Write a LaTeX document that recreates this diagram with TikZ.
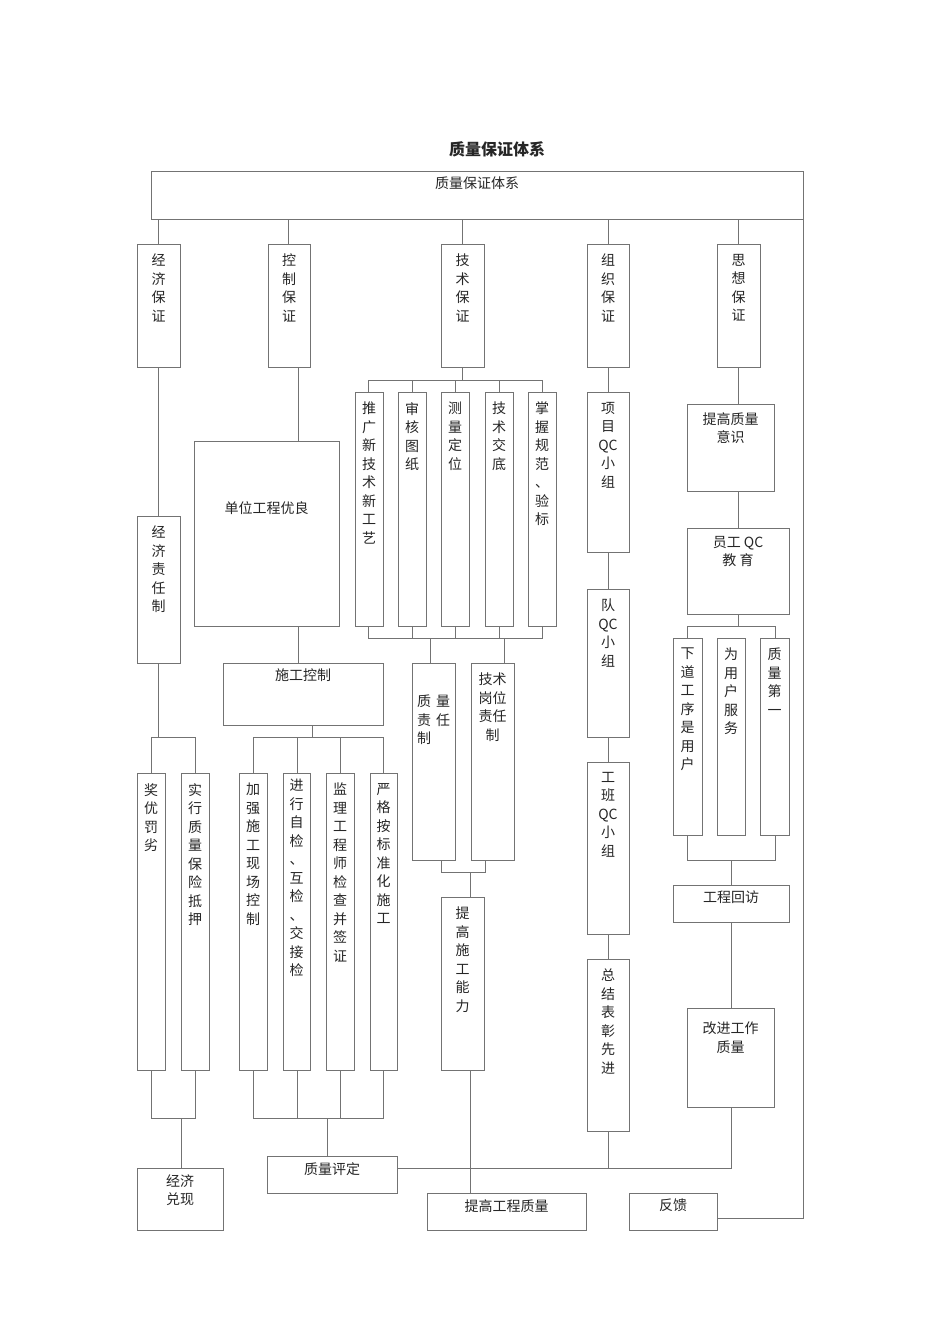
\documentclass[tikz,border=0pt]{standalone}
\usepackage{fontspec}
\newfontfamily\cjk{Noto Sans CJK SC}
\begin{document}
\begin{tikzpicture}[x=1pt,y=-1pt,
  box/.style={draw=black!55,line width=0.6pt,inner sep=0pt,outer sep=0pt},
  txt/.style={font=\cjk\fontsize{14}{18.5}\selectfont,align=center,inner sep=0pt,text=black!85},
  ln/.style={draw=black!55,line width=0.6pt}]
\useasboundingbox[fill=white] (0,0) rectangle (950,1344);
\newcommand\bx[7][6]{%
 \pgfmathsetmacro\w{#5-#3}\pgfmathsetmacro\h{#6-#4}%
 \node[box,minimum width=\w pt,minimum height=\h pt] (#2) at ({(#3+#5)/2},{(#4+#6)/2}) {};%
 \node[txt,anchor=north] at ([yshift=-#1pt]#2.north) {#7};}
\node[txt,font=\cjk\bfseries\fontsize{16}{18}\selectfont] (title) at (497,149) {质量保证体系};
\bx{top}{151}{171}{803}{219}{质量保证体系}
% level 1
\bx[10]{jj}{137}{244}{180}{367}{经\\济\\保\\证}
\bx[10]{kz}{268}{244}{310}{367}{控\\制\\保\\证}
\bx[10]{js}{441}{244}{484}{367}{技\\术\\保\\证}
\bx[10]{zz}{587}{244}{629}{367}{组\\织\\保\\证}
\bx[10]{sx}{717}{244}{760}{367}{思\\想\\保\\证}
\foreach \n/\x in {jj/158,kz/288,js/462,zz/608,sx/738}
  \draw[ln] (\x,0 |- top.south) -- (\x,0 |- \n.north);
% economic
\bx[10]{zrz}{137}{516}{180}{663}{经\\济\\责\\任\\制}
\draw[ln] (158,0 |- jj.south) -- (158,0 |- zrz.north);
\bx[10]{jy}{137}{773}{165}{1070}{奖\\优\\罚\\劣}
\bx[10]{sxz}{181}{773}{209}{1070}{实\\行\\质\\量\\保\\险\\抵\\押}
\draw[ln] (158,0 |- zrz.south) -- (158,737);
\draw[ln] (151,0 |- jy.north) -- (151,737) -- (195,737) -- (195,0 |- sxz.north);
\draw[ln] (151,0 |- jy.south) -- (151,1118) -- (195,1118) -- (195,0 |- sxz.south);
\bx{jjdx}{137}{1168}{223}{1230}{经济\\兑现}
\draw[ln] (181,1118) -- (181,0 |- jjdx.north);
% control
\bx[60]{dw}{194}{441}{339}{626}{单位工程优良}
\draw[ln] (298,0 |- kz.south) -- (298,0 |- dw.north);
\bx{sg}{223}{663}{383}{725}{施工控制}
\draw[ln] (298,0 |- dw.south) -- (298,0 |- sg.north);
\bx[10]{c1}{239}{773}{267}{1070}{加\\强\\施\\工\\现\\场\\控\\制}
\bx[6]{c2}{283}{773}{310}{1070}{进\\行\\自\\检\\、\\互\\检\\、\\交\\接\\检}
\bx[10]{c3}{326}{773}{354}{1070}{监\\理\\工\\程\\师\\检\\查\\并\\签\\证}
\bx[10]{c4}{370}{773}{397}{1070}{严\\格\\按\\标\\准\\化\\施\\工}
\draw[ln] (312,0 |- sg.south) -- (312,737);
\draw[ln] (253,0 |- c1.north) -- (253,737) -- (383,737) -- (383,0 |- c4.north);
\draw[ln] (297,737) -- (297,0 |- c2.north);
\draw[ln] (340,737) -- (340,0 |- c3.north);
\draw[ln] (253,0 |- c1.south) -- (253,1118) -- (383,1118) -- (383,0 |- c4.south);
\draw[ln] (297,1118) -- (297,0 |- c2.south);
\draw[ln] (340,1118) -- (340,0 |- c3.south);
\bx{zlpd}{267}{1156}{397}{1193}{质量评定}
\draw[ln] (327,1118) -- (327,0 |- zlpd.north);
% technical
\bx[10]{t1}{355}{392}{383}{626}{推\\广\\新\\技\\术\\新\\工\\艺}
\bx[10]{t2}{398}{392}{426}{626}{审\\核\\图\\纸}
\bx[10]{t3}{441}{392}{469}{626}{测\\量\\定\\位}
\bx[10]{t4}{485}{392}{513}{626}{技\\术\\交\\底}
\bx[10]{t5}{528}{392}{556}{626}{掌\\握\\规\\范\\、\\验\\标}
\draw[ln] (462,0 |- js.south) -- (462,380);
\draw[ln] (368,0 |- t1.north) -- (368,380) -- (542,380) -- (542,0 |- t5.north);
\foreach \n/\x in {t2/412,t3/455,t4/499} {
  \draw[ln] (\x,380) -- (\x,0 |- \n.north);
  \draw[ln] (\x,638) -- (\x,0 |- \n.south);}
\draw[ln] (368,0 |- t1.south) -- (368,638) -- (542,638) -- (542,0 |- t5.south);
\bx[40]{zlz}{412}{663}{455}{860}{}
\node[txt,anchor=north] at (424,695) {质\\责\\制};
\node[txt,anchor=north] at (443,695) {量\\任};
\node[txt,anchor=north,yshift=-8pt] at (zlz.north) {};
\bx[10]{gwz}{471}{663}{514}{860}{技术\\岗位\\责任\\制}
\draw[ln] (430,638) -- (430,0 |- zlz.north);
\draw[ln] (504,638) -- (504,0 |- gwz.north);
\bx[10]{sgnl}{441}{897}{484}{1070}{提\\高\\施\\工\\能\\力}
\draw[ln] (441,0 |- zlz.south) -- (441,872) -- (485,872) -- (485,0 |- gwz.south);
\draw[ln] (470,872) -- (470,0 |- sgnl.north);
\bx{gczl}{427}{1193}{586}{1230}{提高工程质量}
\draw[ln] (470,0 |- sgnl.south) -- (470,0 |- gczl.north);
% organisation
\bx[10]{o1}{587}{392}{629}{552}{项\\目\\QC\\小\\组}
\bx[10]{o2}{587}{589}{629}{737}{队\\QC\\小\\组}
\bx[10]{o3}{587}{762}{629}{934}{工\\班\\QC\\小\\组}
\bx[10]{o4}{587}{959}{629}{1131}{总\\结\\表\\彰\\先\\进}
\draw[ln] (608,0 |- zz.south) -- (608,0 |- o1.north);
\draw[ln] (608,0 |- o1.south) -- (608,0 |- o2.north);
\draw[ln] (608,0 |- o2.south) -- (608,0 |- o3.north);
\draw[ln] (608,0 |- o3.south) -- (608,0 |- o4.north);
% thought
\bx[8]{s1}{687}{404}{774}{491}{提高质量\\意识}
\bx[8]{s2}{687}{528}{789}{614}{员工 QC\\教\ 育}
\draw[ln] (738,0 |- sx.south) -- (738,0 |- s1.north);
\draw[ln] (738,0 |- s1.south) -- (738,0 |- s2.north);
\bx[10]{s3}{673}{638}{702}{835}{下\\道\\工\\序\\是\\用\\户}
\bx[10]{s4}{717}{638}{745}{835}{为\\用\\户\\服\\务}
\bx[10]{s5}{760}{638}{789}{835}{质\\量\\第\\一}
\draw[ln] (738,0 |- s2.south) -- (738,626);
\draw[ln] (687,0 |- s3.north) -- (687,626) -- (775,626) -- (775,0 |- s5.north);
\draw[ln] (687,0 |- s3.south) -- (687,860) -- (775,860) -- (775,0 |- s5.south);
\bx{hf}{673}{885}{789}{922}{工程回访}
\draw[ln] (731,860) -- (731,0 |- hf.north);
\bx[14]{gj}{687}{1008}{774}{1107}{改进工作\\质量}
\draw[ln] (731,0 |- hf.south) -- (731,0 |- gj.north);
\draw[ln] (731,0 |- gj.south) -- (731,1168) -- (zlpd.east |- 0,1168);
\draw[ln] (608,0 |- o4.south) -- (608,1168);
% feedback
\bx{fk}{629}{1193}{717}{1230}{反馈}
\draw[ln] (top.north east) -- (803,1218) -- (fk.east |- 0,1218);
\end{tikzpicture}
\end{document}
